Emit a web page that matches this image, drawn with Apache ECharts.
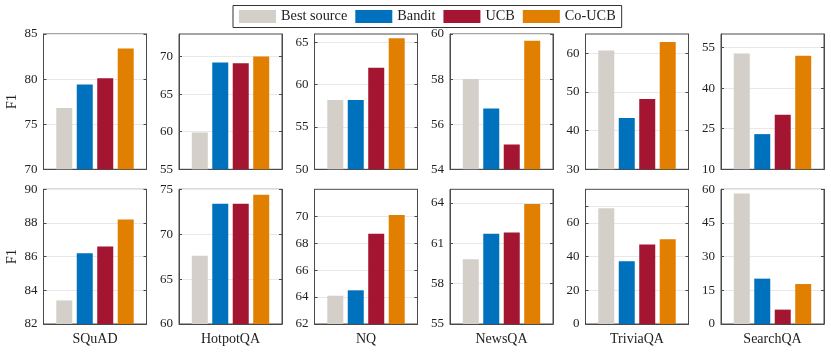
<!DOCTYPE html>
<html><head><meta charset="utf-8">
<script src="https://cdn.jsdelivr.net/npm/echarts@6/dist/echarts.min.js"></script>
<style>html,body{margin:0;padding:0;background:#fff;}#c{width:831px;height:353px;}</style>
</head><body><div id="c"></div>
<script>
const datasets = ['SQuAD', 'HotpotQA', 'NQ', 'NewsQA', 'TriviaQA', 'SearchQA'];
const methods = ['Best source', 'Bandit', 'UCB', 'Co-UCB'];
const colors = ['#d4d0c9', '#0071bc', '#a31530', '#e07f00'];

// Top row
const row1Best   = [76.8, 59.9, 58.2, 58.0, 60.7, 52.8];
const row1Bandit = [79.4, 69.2, 58.2, 56.7, 43.3, 23.0];
const row1UCB    = [80.1, 69.1, 62.0, 55.1, 48.2, 30.2];
const row1CoUCB  = [83.4, 70.0, 65.5, 59.7, 62.9, 52.0];
// Bottom row
const row2Best   = [83.4, 67.6, 64.1, 59.8, 68.7, 58.1];
const row2Bandit = [86.2, 73.4, 64.5, 61.7, 37.3, 20.2];
const row2UCB    = [86.6, 73.4, 68.7, 61.8, 47.2, 6.4];
const row2CoUCB  = [88.2, 74.4, 70.1, 63.9, 50.3, 17.8];

// Axis ranges and tick labels
const row1Min = [70, 55, 50, 54, 30, 10];
const row1Max = [85, 73, 66, 60, 65, 60];
const row1Ticks = [[70, 75, 80, 85], [55, 60, 65, 70], [50, 55, 60, 65], [54, 56, 58, 60], [30, 40, 50, 60], [10, 25, 40, 55]];
const row1ExtraGrid = [[], [], [], [], [], []];
const row2Min = [82, 60, 62, 55, 0, 0];
const row2Max = [90, 75, 72, 65, 80, 60];
const row2Ticks = [[82, 84, 86, 88, 90], [60, 65, 70, 75], [62, 64, 66, 68, 70], [55, 58, 61, 64], [0, 20, 40, 60], [0, 15, 30, 45, 60]];
const row2ExtraGrid = [[], [], [], [], [70], []];

const FONT = "'Liberation Serif', 'Times New Roman', serif";
const rows = [
  {vals: [row1Best, row1Bandit, row1UCB, row1CoUCB], min: row1Min, max: row1Max, ticks: row1Ticks, extra: row1ExtraGrid, top: 34, height: 135.3, showCat: false},
  {vals: [row2Best, row2Bandit, row2UCB, row2CoUCB], min: row2Min, max: row2Max, ticks: row2Ticks, extra: row2ExtraGrid, top: 189.3, height: 134.7, showCat: true}
];

const grid = [], xAxis = [], yAxis = [], series = [];
const frameColor = '#4a4a4a';
rows.forEach((row, r) => {
  datasets.forEach((ds, i) => {
    const p = grid.length;
    grid.push({left: 43.5 + i * 135.5, top: row.top, width: 103, height: row.height,
      show: true, borderColor: frameColor, borderWidth: 1, backgroundColor: 'transparent'});
    xAxis.push({type: 'category', gridIndex: p, data: [ds],
      axisLine: {lineStyle: {color: frameColor, width: 1}}, axisTick: {show: false},
      axisLabel: {show: row.showCat, color: '#222', fontFamily: FONT, fontSize: 14, margin: 8}});
    const tickVals = row.ticks[i].concat(row.extra[i]);
    const base = {type: 'value', gridIndex: p, min: row.min[i], max: row.max[i]};
    yAxis.push(Object.assign({}, base, {
      position: 'left',
      name: i === 0 ? 'F1' : '', nameLocation: 'middle', nameGap: 24,
      nameTextStyle: {fontFamily: FONT, fontSize: 14.5, color: '#222'},
      axisLine: {show: true, lineStyle: {color: frameColor, width: 1}},
      axisTick: {show: true, inside: true, length: 3, customValues: tickVals, lineStyle: {color: frameColor}},
      axisLabel: {customValues: row.ticks[i], color: '#222', fontFamily: FONT, fontSize: 13, margin: 6},
      splitLine: {show: true, lineStyle: {color: '#e8e8e8', width: 1}}
    }));
    yAxis.push(Object.assign({}, base, {
      position: 'right',
      axisLine: {show: true, lineStyle: {color: frameColor, width: 1}},
      axisTick: {show: true, inside: true, length: 3, customValues: tickVals, lineStyle: {color: frameColor}},
      axisLabel: {show: false},
      splitLine: {show: false}
    }));
    methods.forEach((m, k) => {
      series.push({type: 'bar', name: m, xAxisIndex: p, yAxisIndex: 2 * p,
        data: [row.vals[k][i]], barWidth: 16, barGap: '28%',
        itemStyle: {color: colors[k]}, animation: false});
    });
  });
});

const chart = echarts.init(document.getElementById('c'), null, {renderer: 'canvas'});
chart.setOption({
  animation: false,
  color: colors,
  legend: {data: methods, left: 233, top: 5.5, padding: [4, 6, 4, 6], itemGap: 8,
    itemWidth: 37, itemHeight: 13, icon: 'rect', borderColor: '#333', borderWidth: 1,
    textStyle: {fontFamily: FONT, fontSize: 14.3, color: '#222'}},
  grid, xAxis, yAxis, series
});
</script></body></html>
